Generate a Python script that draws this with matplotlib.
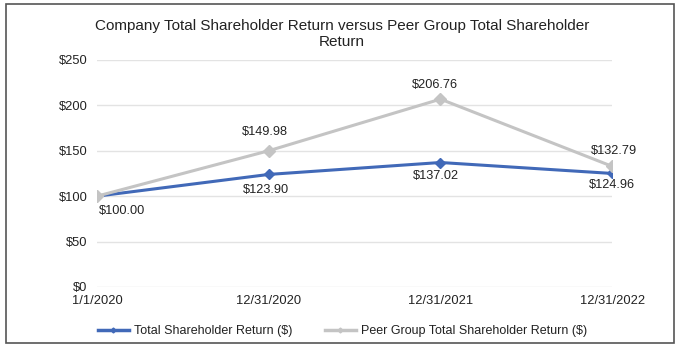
import matplotlib.pyplot as plt
from matplotlib.patches import Rectangle
from matplotlib.lines import Line2D

plt.rcParams['font.family'] = ['Liberation Sans', 'DejaVu Sans']

dates = ["1/1/2020", "12/31/2020", "12/31/2021", "12/31/2022"]
company_tsr = [100.00, 123.90, 137.02, 124.96]
peer_tsr = [100.00, 149.98, 206.76, 132.79]

BLUE = "#4169b8"
GRAY = "#c4c4c4"
TXT = "#222222"

fig = plt.figure(figsize=(6.84, 3.5), dpi=100)
ax = fig.add_axes([0.142, 0.18, 0.753, 0.649])

x = list(range(len(dates)))
ax.plot(x, company_tsr, color=BLUE, lw=2.2, marker="D", ms=5.5, zorder=3)
ax.plot(x, peer_tsr, color=GRAY, lw=2.2, marker="D", ms=6.5, zorder=4)

ax.set_xlim(0, 3)
ax.set_ylim(0, 250)
ax.set_yticks(range(0, 251, 50))
ax.set_yticklabels([f"${v}" for v in range(0, 251, 50)])
ax.set_xticks(x)
ax.set_xticklabels(dates)
ax.tick_params(axis="both", length=0, labelsize=9.3, colors=TXT)
ax.tick_params(axis="y", pad=7)
ax.tick_params(axis="x", pad=6)
ax.grid(axis="y", color="#e3e3e3", lw=1)
ax.set_axisbelow(True)
for s in ax.spines.values():
    s.set_visible(False)

# data labels (offsets in points)
comp_off = [(18, -11), (-2, -11.5), (-3, -9.5), (0, -8.5)]
peer_off = [None, (-3, 13.5), (-4, 10), (1.5, 11)]
for i, v in enumerate(company_tsr):
    dx, dy = comp_off[i]
    ax.annotate(f"${v:.2f}", (i, v), xytext=(dx, dy), textcoords="offset points",
                ha="center", va="center", fontsize=9.2, color=TXT, zorder=5)
for i, v in enumerate(peer_tsr):
    if peer_off[i] is None:
        continue
    dx, dy = peer_off[i]
    ax.annotate(f"${v:.2f}", (i, v), xytext=(dx, dy), textcoords="offset points",
                ha="center", va="center", fontsize=9.2, color=TXT, zorder=5)

fig.text(0.5, 0.903, "Company Total Shareholder Return versus Peer Group Total Shareholder\nReturn",
         ha="center", va="center", fontsize=11, color=TXT, linespacing=1.2)

handles = [Line2D([], [], color=BLUE, lw=2.5, marker="D", ms=2.5),
           Line2D([], [], color=GRAY, lw=2.5, marker="D", ms=2.5)]
fig.legend(handles, ["Total Shareholder Return ($)", "Peer Group Total Shareholder Return ($)"],
           loc="center", bbox_to_anchor=(0.5007, 0.054), ncol=2, frameon=False,
           fontsize=9, handlelength=2.5, columnspacing=2.6, handletextpad=0.4,
           labelcolor=TXT)

fig.patches.append(Rectangle((6 / 684, 7 / 350), 668 / 684, 339 / 350, transform=fig.transFigure,
                             fill=False, edgecolor="#555555", lw=1.2))

fig.savefig("out.png", dpi=100)
